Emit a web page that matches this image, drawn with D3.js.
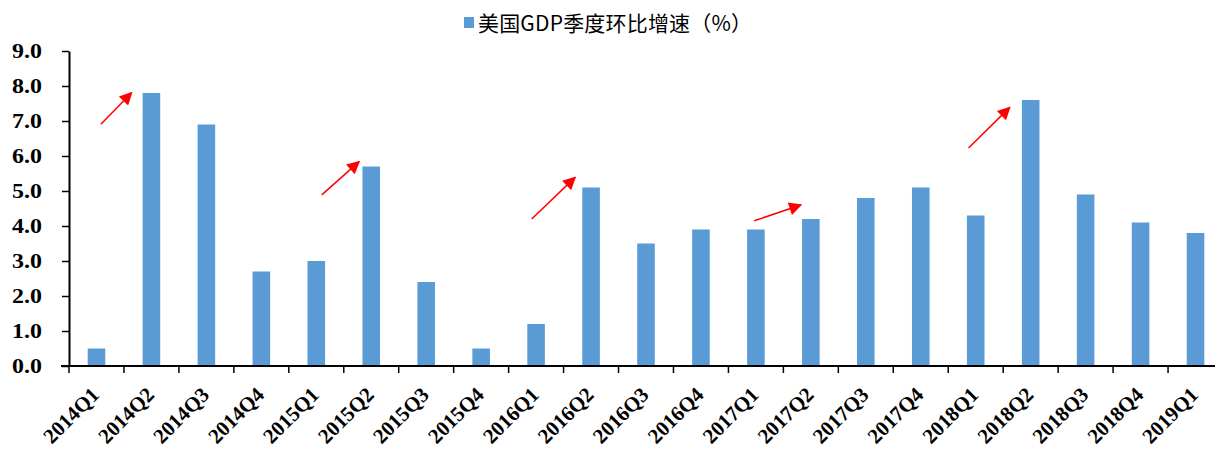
<!DOCTYPE html>
<html>
<head>
<meta charset="utf-8">
<script src="https://cdn.jsdelivr.net/npm/d3@7/dist/d3.min.js"></script>
<style>
  html, body { margin: 0; padding: 0; background: #fff; }
  svg { display: block; }
</style>
</head>
<body>
<svg id="chart" width="1215" height="451"></svg>
<script>
// Quarterly US GDP growth, annualised q/q (%)
const quarters = ["2014Q1","2014Q2","2014Q3","2014Q4","2015Q1","2015Q2","2015Q3","2015Q4",
                  "2016Q1","2016Q2","2016Q3","2016Q4","2017Q1","2017Q2","2017Q3","2017Q4",
                  "2018Q1","2018Q2","2018Q3","2018Q4","2019Q1"];
const growth = [0.5, 7.8, 6.9, 2.7, 3.0, 5.7, 2.4, 0.5,
                1.2, 5.1, 3.5, 3.9, 3.9, 4.2, 4.8, 5.1,
                4.3, 7.6, 4.9, 4.1, 3.8];
const yTicks = [0, 1, 2, 3, 4, 5, 6, 7, 8, 9];
const seriesName = "美国GDP季度环比增速（%）";

// Red arrows, in (quarter slot, value) units
const arrowsFrom = [[0.58, 6.91], [4.60, 4.89], [8.42, 4.20], [12.47, 4.15], [16.37, 6.23]];
const arrowsTo   = [[1.14, 7.81], [5.28, 5.84], [9.21, 5.39], [13.32, 4.60], [17.12, 7.39]];

const svg = d3.select("#chart");
const plotLeft = 69, plotRight = 1223, plotTop = 51, plotBottom = 366;
const serif = "'Liberation Serif', 'Times New Roman', serif";

const x = d3.scaleBand().domain(quarters).range([plotLeft, plotRight]).paddingInner(0.68).paddingOuter(0.34);
const slot = d3.scaleLinear().domain([0, quarters.length]).range([plotLeft, plotRight]);
const y = d3.scaleLinear().domain([0, 9]).range([plotBottom, plotTop]);

// bars
svg.append("g").selectAll("rect").data(quarters).join("rect")
  .attr("x", d => x(d))
  .attr("width", x.bandwidth())
  .attr("y", (d, i) => y(growth[i]))
  .attr("height", (d, i) => y(0) - y(growth[i]))
  .attr("fill", "#5B9BD5");

// y axis
const yAxis = svg.append("g").attr("transform", `translate(${plotLeft},0)`)
  .call(d3.axisLeft(y).tickValues(yTicks).tickFormat(d3.format(".1f")).tickSize(7).tickSizeOuter(0));
yAxis.select(".domain").attr("stroke", "#000").attr("stroke-width", 2);
yAxis.selectAll(".tick line").attr("stroke", "#000").attr("stroke-width", 1.5);
yAxis.selectAll(".tick text")
  .attr("x", 0)
  .attr("transform", "translate(-27,0) scale(1.14,1)")
  .attr("font-family", serif)
  .attr("font-weight", "bold")
  .attr("font-size", 21)
  .attr("fill", "#000");

// x axis with ticks at band boundaries
const xAxisG = svg.append("g").attr("transform", `translate(0,${plotBottom})`);
xAxisG.append("line").attr("x1", plotLeft - 8).attr("x2", plotRight).attr("stroke", "#000").attr("stroke-width", 2);
xAxisG.selectAll("line.tk").data(d3.range(quarters.length + 1)).join("line")
  .attr("class", "tk")
  .attr("x1", d => slot(d)).attr("x2", d => slot(d))
  .attr("y1", 0).attr("y2", 7)
  .attr("stroke", "#000").attr("stroke-width", 1.5);
xAxisG.selectAll("text").data(quarters).join("text")
  .attr("transform", d => `translate(${x(d) + x.bandwidth() / 2 + 4},${30}) rotate(-45)`)
  .attr("text-anchor", "end")
  .attr("font-family", serif)
  .attr("font-weight", "bold")
  .attr("font-size", 21)
  .attr("fill", "#000")
  .text(d => d);

// arrows
const defs = svg.append("defs");
defs.append("marker")
  .attr("id", "head").attr("viewBox", "0 0 10 10")
  .attr("refX", 9).attr("refY", 5)
  .attr("markerWidth", 16).attr("markerHeight", 13)
  .attr("markerUnits", "userSpaceOnUse")
  .attr("orient", "auto")
  .append("path").attr("d", "M0,0 L10,5 L0,10 Z").attr("fill", "#FF0000");

svg.append("g").selectAll("line").data(arrowsFrom).join("line")
  .attr("x1", d => slot(d[0])).attr("y1", d => y(d[1]))
  .attr("x2", (d, i) => slot(arrowsTo[i][0])).attr("y2", (d, i) => y(arrowsTo[i][1]))
  .attr("stroke", "#FF0000").attr("stroke-width", 1.5)
  .attr("marker-end", "url(#head)");

// legend
const lg = svg.append("g").attr("transform", "translate(464,23)");
lg.append("rect").attr("x", 0).attr("y", -6).attr("width", 10).attr("height", 11).attr("fill", "#5B9BD5");
lg.append("text").attr("x", 14).attr("y", 7.5)
  .attr("font-family", "'Noto Sans CJK SC', sans-serif")
  .attr("font-size", 21)
  .attr("textLength", 274)
  .attr("lengthAdjust", "spacing")
  .attr("fill", "#000")
  .text(seriesName);
</script>
</body>
</html>
